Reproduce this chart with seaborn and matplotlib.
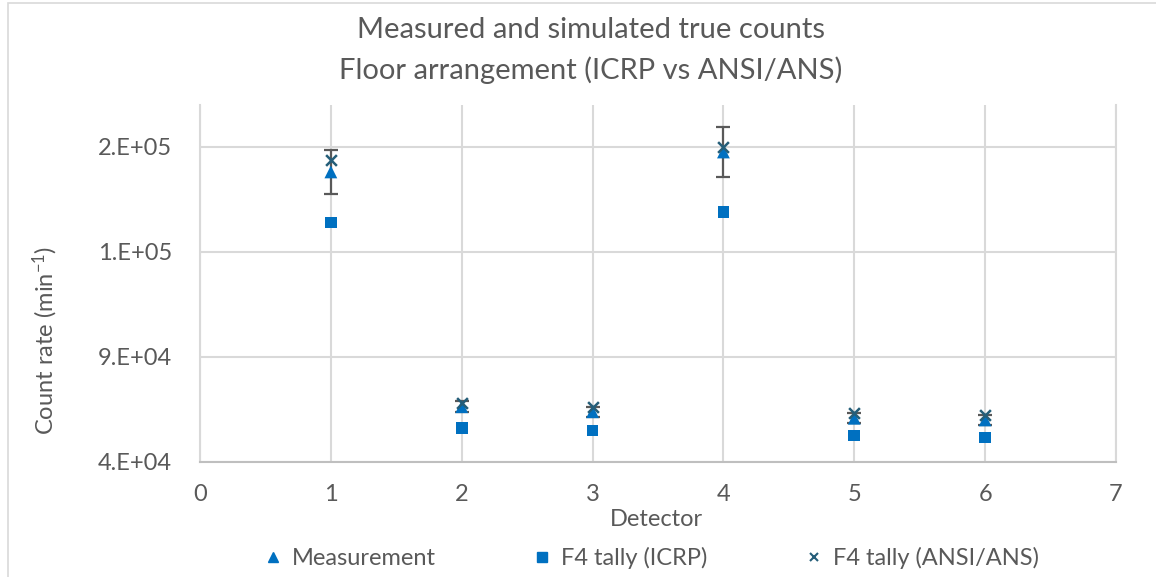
import matplotlib
matplotlib.use("Agg")
import matplotlib.pyplot as plt
import seaborn as sns
from matplotlib.patches import Rectangle

# Detector positions and count rates (min^-1)
detectors = [1, 2, 3, 4, 5, 6]
measurement = [178100, 66200, 63800, 187600, 60700, 59900]
measurement_err = [10500, 2500, 2400, 11900, 2300, 2300]
f4_icrp = [154000, 56200, 54800, 159000, 52400, 51600]
f4_ansi = [183700, 67800, 66200, 190000, 63000, 62200]

y_ticks = [40000, 90000, 140000, 190000]
y_tick_labels = ["4.E+04", "9.E+04", "1.E+05", "2.E+05"]
x_ticks = [0, 1, 2, 3, 4, 5, 6, 7]

sns.set_theme(style="white")
plt.rcParams["font.family"] = ["Lato", "DejaVu Sans"]
plt.rcParams["mathtext.fontset"] = "custom"
plt.rcParams["mathtext.rm"] = "Lato"

text_color = "#595959"
grid_color = "#D9D9D9"
blue = "#0070C0"
teal = "#255E79"
fs = 17

fig = plt.figure(figsize=(11.56, 5.77), dpi=100)
ax = fig.add_axes([200 / 1156, 1 - 461.7 / 577, (1116 - 200) / 1156, (461.7 - 105) / 577])

# Chart area border
fig.patches.append(Rectangle((8 / 1156, -0.1), 1.2, (577 - 3) / 577 + 0.1,
                             transform=fig.transFigure, fill=False,
                             edgecolor=grid_color, linewidth=1.2))

ax.errorbar(detectors, measurement, yerr=measurement_err, fmt="none",
            ecolor="#595959", elinewidth=1.6, capsize=5, capthick=1.6, zorder=3)

sns.scatterplot(x=detectors, y=f4_icrp, marker="s", color=blue, s=70,
                edgecolor="none", ax=ax, zorder=4)
sns.scatterplot(x=detectors, y=measurement, marker="^", color=blue, s=85,
                edgecolor="none", ax=ax, zorder=4)
sns.scatterplot(x=detectors, y=f4_ansi, marker="x", color=teal, s=60,
                linewidth=1.8, ax=ax, zorder=5)

ax.set_xlim(0, 7)
ax.set_ylim(40000, 210000)
ax.set_xticks(x_ticks)
ax.set_yticks(y_ticks)
ax.set_yticklabels(y_tick_labels)
ax.tick_params(axis="both", length=0, labelsize=fs, colors=text_color)
ax.tick_params(axis="y", pad=20)
ax.tick_params(axis="x", pad=16)
ax.grid(True, color=grid_color, linewidth=1.5)
ax.set_axisbelow(True)
ax.spines["top"].set_visible(False)
ax.spines["right"].set_color(grid_color)
ax.spines["left"].set_color(grid_color)
ax.spines["bottom"].set_color("#BFBFBF")
for side in ["left", "right", "bottom"]:
    ax.spines[side].set_linewidth(1.5)

ax.set_xlabel("")
ax.set_ylabel("")
fig.text(656 / 1156, 1 - 519 / 577, "Detector", ha="center", va="center",
         fontsize=fs, color=text_color)
fig.text(45 / 1156, 1 - 340 / 577, r"Count rate (min$\mathregular{^{-1}}$)", ha="center",
         va="center", rotation=90, fontsize=fs, color=text_color)

fig.text(591 / 1156, 1 - 30 / 577, "Measured and simulated true counts",
         ha="center", va="center", fontsize=21, color=text_color)
fig.text(591 / 1156, 1 - 70 / 577, "Floor arrangement (ICRP vs ANSI/ANS)",
         ha="center", va="center", fontsize=21, color=text_color)

handles = [
    plt.Line2D([], [], marker="^", color=blue, linestyle="none", markersize=7),
    plt.Line2D([], [], marker="s", color=blue, linestyle="none", markersize=7),
    plt.Line2D([], [], marker="x", color=teal, linestyle="none", markersize=6, markeredgewidth=1.5),
]
fig.legend(handles, ["Measurement", "F4 tally (ICRP)", "F4 tally (ANSI/ANS)"],
           loc="center", bbox_to_anchor=(650 / 1156, 1 - 558 / 577), ncol=3,
           frameon=False, fontsize=fs, labelcolor=text_color,
           handletextpad=0.3, columnspacing=4.0, handlelength=1.0)

fig.savefig("out.png", dpi=100)
